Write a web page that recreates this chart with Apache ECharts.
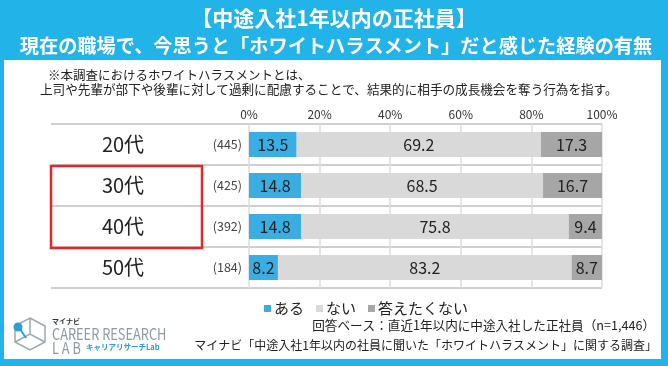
<!DOCTYPE html>
<html><head><meta charset="utf-8">
<script src="https://cdn.jsdelivr.net/npm/echarts@6/dist/echarts.min.js"></script>
<style>html,body{margin:0;padding:0;background:#fff}#c{width:668px;height:366px}</style>
</head><body><div id="c"></div>
<script>
const categories = ['20代', '30代', '40代', '50代'];
const counts = ['(445)', '(425)', '(392)', '(184)'];
const seriesNames = ['ある', 'ない', '答えたくない'];
const aru = [13.5, 14.8, 14.8, 8.2];
const nai = [69.2, 68.5, 75.8, 83.2];
const kotaenai = [17.3, 16.7, 9.4, 8.7];
const xTicks = [0, 20, 40, 60, 80, 100];

const FONT = '"Noto Sans CJK JP", "Noto Sans", sans-serif';
const BLUE = '#22b3e8';
const colors = ['#3aaee2', '#d9d9d9', '#a6a6a6'];

const chart = echarts.init(document.getElementById('c'));
const barLabel = {show: true, position: 'inside', fontSize: 16, color: '#222', fontFamily: FONT,
  formatter: p => p.value.toFixed(1)};
chart.setOption({
  backgroundColor: '#fff',
  animation: false,
  textStyle: {fontFamily: FONT},
  grid: [
    {left: 249, width: 353, top: 124, height: 164},
    {left: 51, width: 551, top: 124, height: 164}
  ],
  xAxis: [
    {type: 'value', gridIndex: 0, min: 0, max: 100, interval: 20, position: 'top',
      axisLine: {show: false}, axisTick: {show: false},
      axisLabel: {formatter: v => xTicks.includes(v) ? v + '%' : '', fontSize: 12, color: '#333', margin: 4},
      splitLine: {show: true, lineStyle: {color: '#dcdcdc', width: 1.5}}},
    {type: 'value', gridIndex: 1, min: 0, max: 1, show: false}
  ],
  yAxis: [
    {type: 'category', gridIndex: 0, data: categories, inverse: true,
      axisLine: {show: false}, axisTick: {show: false},
      axisLabel: {margin: 7, formatter: (v, i) => '{a|' + v + '}{b|' + counts[i] + '}',
        rich: {a: {width: 150, align: 'center', fontSize: 20, color: '#222', fontFamily: FONT},
               b: {width: 44, align: 'right', fontSize: 12.5, color: '#444', fontFamily: FONT}}}},
    {type: 'category', gridIndex: 1, data: categories, inverse: true,
      axisLine: {show: false}, axisTick: {show: false}, axisLabel: {show: false},
      splitLine: {show: true, lineStyle: {color: '#cfcfcf', width: 2}}}
  ],
  legend: {
    data: seriesNames, left: 259, top: 296, itemWidth: 7, itemHeight: 7, itemGap: 12,
    icon: 'rect', textStyle: {fontSize: 15, color: '#222', fontFamily: FONT, padding: [0, 0, 0, -2]}
  },
  series: [
    {name: seriesNames[0], type: 'bar', stack: 's', data: aru, barWidth: 25, itemStyle: {color: colors[0]}, label: barLabel},
    {name: seriesNames[1], type: 'bar', stack: 's', data: nai, barWidth: 25, itemStyle: {color: colors[1]}, label: barLabel},
    {name: seriesNames[2], type: 'bar', stack: 's', data: kotaenai, barWidth: 25, itemStyle: {color: colors[2]}, label: barLabel}
  ],
  graphic: [
    {type: 'rect', shape: {x: 0, y: 0, width: 668, height: 60}, style: {fill: BLUE}, silent: true},
    {type: 'rect', shape: {x: 0, y: 0, width: 4, height: 366}, style: {fill: BLUE}, silent: true},
    {type: 'rect', shape: {x: 661, y: 0, width: 7, height: 366}, style: {fill: BLUE}, silent: true},
    {type: 'rect', shape: {x: 0, y: 359, width: 668, height: 7}, style: {fill: BLUE}, silent: true},
    {type: 'text', x: 334, y: 18, style: {text: '【中途入社1年以内の正社員】', fill: '#fff', font: 'bold 21px ' + FONT, textAlign: 'center', textVerticalAlign: 'middle'}},
    {type: 'text', x: 336, y: 46, style: {text: '現在の職場で、今思うと「ホワイトハラスメント」だと感じた経験の有無', fill: '#fff', font: 'bold 19.2px ' + FONT, textAlign: 'center', textVerticalAlign: 'middle'}},
    {type: 'text', x: 48, y: 75, style: {text: '※本調査におけるホワイトハラスメントとは、', fill: '#222', font: '12.5px ' + FONT, textVerticalAlign: 'middle'}},
    {type: 'text', x: 40, y: 89, style: {text: '上司や先輩が部下や後輩に対して過剰に配慮することで、結果的に相手の成長機会を奪う行為を指す。', fill: '#222', font: '12.6px ' + FONT, textVerticalAlign: 'middle'}},
    {type: 'rect', shape: {x: 51, y: 166, width: 151, height: 82}, style: {fill: 'none', stroke: '#e3262b', lineWidth: 2.5}, z: 10},
    {type: 'text', x: 655, y: 325, style: {text: '回答ベース：直近1年以内に中途入社した正社員（n=1,446）', fill: '#222', font: '12.6px ' + FONT, textAlign: 'right', textVerticalAlign: 'middle'}},
    {type: 'text', x: 657, y: 345, style: {text: 'マイナビ「中途入社1年以内の社員に聞いた「ホワイトハラスメント」に関する調査」', fill: '#222', font: '12px ' + FONT, textAlign: 'right', textVerticalAlign: 'middle'}},
    {type: 'polygon', shape: {points: [[30, 318], [45, 326], [45, 342], [30, 350], [15, 342], [15, 326]]}, style: {fill: 'none', stroke: '#9aa8b2', lineWidth: 1.5}},
    {type: 'polyline', shape: {points: [[15, 342], [30, 334], [45, 342]]}, style: {fill: 'none', stroke: '#9aa8b2', lineWidth: 1.5}},
    {type: 'line', shape: {x1: 30, y1: 318, x2: 30, y2: 334}, style: {stroke: '#9aa8b2', lineWidth: 1.5}},
    {type: 'line', shape: {x1: 20, y1: 329, x2: 26, y2: 338}, style: {stroke: '#2a9fd8', lineWidth: 2}},
    {type: 'circle', shape: {cx: 18, cy: 327, r: 4.5}, style: {fill: '#2a9fd8'}},
    {type: 'text', x: 52, y: 321, style: {text: 'マイナビ', fill: '#333', font: 'bold 7px ' + FONT, textVerticalAlign: 'middle'}},
    {type: 'text', x: 52, y: 334, scaleX: 0.8, style: {text: 'CAREER RESEARCH', fill: '#8d9aa4', font: '16px ' + FONT, textVerticalAlign: 'middle'}},
    {type: 'text', x: 52, y: 348, scaleX: 0.8, style: {text: 'L A B', fill: '#8d9aa4', font: '16px ' + FONT, textVerticalAlign: 'middle'}},
    {type: 'text', x: 86, y: 347, style: {text: 'キャリアリサーチLab', fill: '#2a9fd8', font: 'bold 7.5px ' + FONT, textVerticalAlign: 'middle'}}
  ]
});
</script></body></html>
